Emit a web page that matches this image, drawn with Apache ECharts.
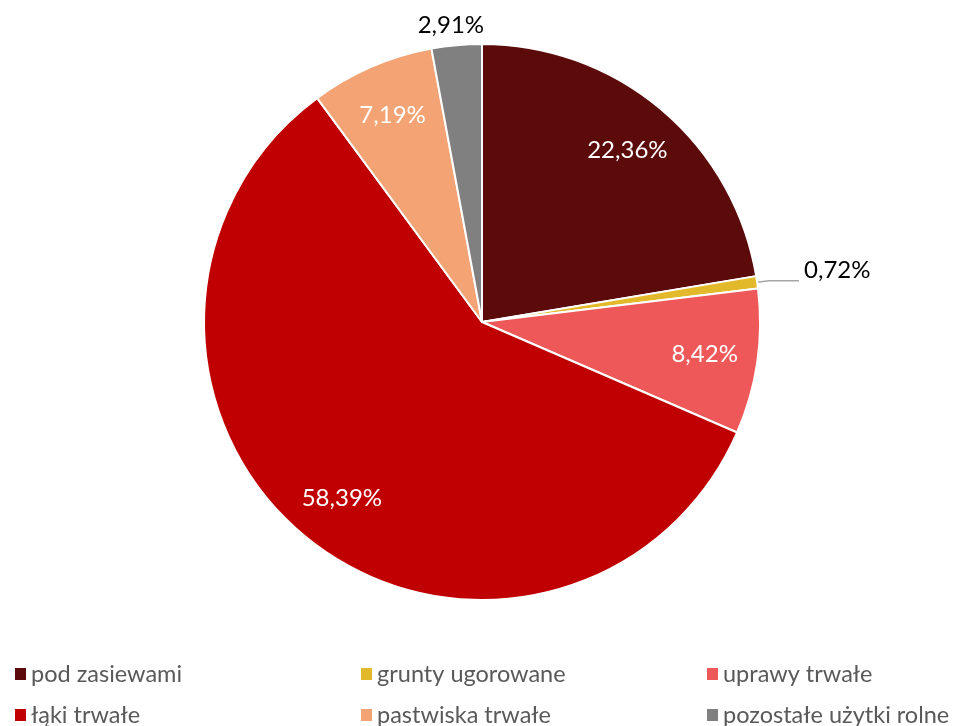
<!DOCTYPE html>
<html><head><meta charset="utf-8">
<script src="https://cdn.jsdelivr.net/npm/echarts@6/dist/echarts.min.js"></script>
<style>html,body{margin:0;padding:0;background:#fff}#c{width:957px;height:726px}</style>
</head><body><div id="c"></div>
<script>
const categories = ['pod zasiewami','grunty ugorowane','uprawy trwałe','łąki trwałe','pastwiska trwałe','pozostałe użytki rolne'];
const values = [22.36, 0.72, 8.42, 58.39, 7.19, 2.91];
const colors = ['#5C0B0B','#E3B92C','#EF5858','#C00000','#F4A474','#808080'];
const outsideLabels = [false, true, false, false, false, true];

const fmt = v => v.toFixed(2).replace('.', ',') + '%';
const center = [482, 322];
const R = 278;

const mainData = categories.map((name, i) => ({
  name, value: values[i],
  itemStyle: {color: colors[i]},
  label: outsideLabels[i] ? {show: true} : {show: false},
  labelLine: i === 1 ? {show: true, length: 12, length2: 30} : {show: false, length: 8, length2: 0}
}));
const labelData = categories.map((name, i) => ({
  name, value: values[i],
  label: {show: !outsideLabels[i]}
}));

const legendCols = [13, 359, 705];
const legendRows = [662, 703];
const legends = categories.map((name, i) => ({
  data: [name],
  left: legendCols[i % 3],
  top: legendRows[Math.floor(i / 3)],
  padding: 0,
  itemWidth: 13, itemHeight: 14,
  itemGap: 0,
  icon: 'rect',
  selectedMode: false,
  textStyle: {fontFamily: 'Lato', fontSize: 23.5, color: '#595959', padding: [0,0,0,-1]}
}));

const chart = echarts.init(document.getElementById('c'), null, {renderer: 'canvas'});
chart.setOption({
  animation: false,
  color: colors,
  legend: legends,
  series: [{
    type: 'pie',
    center, radius: [0, R],
    startAngle: 90, clockwise: true,
    avoidLabelOverlap: false,
    itemStyle: {borderColor: '#fff', borderWidth: 2},
    label: {position: 'outside', formatter: p => fmt(p.value), fontFamily: 'Lato', fontSize: 24, color: '#000'},
    labelLine: {lineStyle: {color: '#A6A6A6', width: 1.5}, smooth: false},
    labelLayout: p => p.dataIndex === 5 ? {align: 'center', verticalAlign: 'bottom'} : (p.dataIndex === 1 ? {dy: -10} : {}),
    emphasis: {disabled: true},
    data: mainData
  }, {
    type: 'pie',
    center, radius: [166, R],
    startAngle: 90, clockwise: true,
    silent: true,
    itemStyle: {color: 'rgba(0,0,0,0)', borderWidth: 0},
    label: {position: 'inside', formatter: p => fmt(p.value), fontFamily: 'Lato', fontSize: 24, color: '#fff'},
    labelLine: {show: false},
    emphasis: {disabled: true},
    data: labelData
  }]
});
</script></body></html>
